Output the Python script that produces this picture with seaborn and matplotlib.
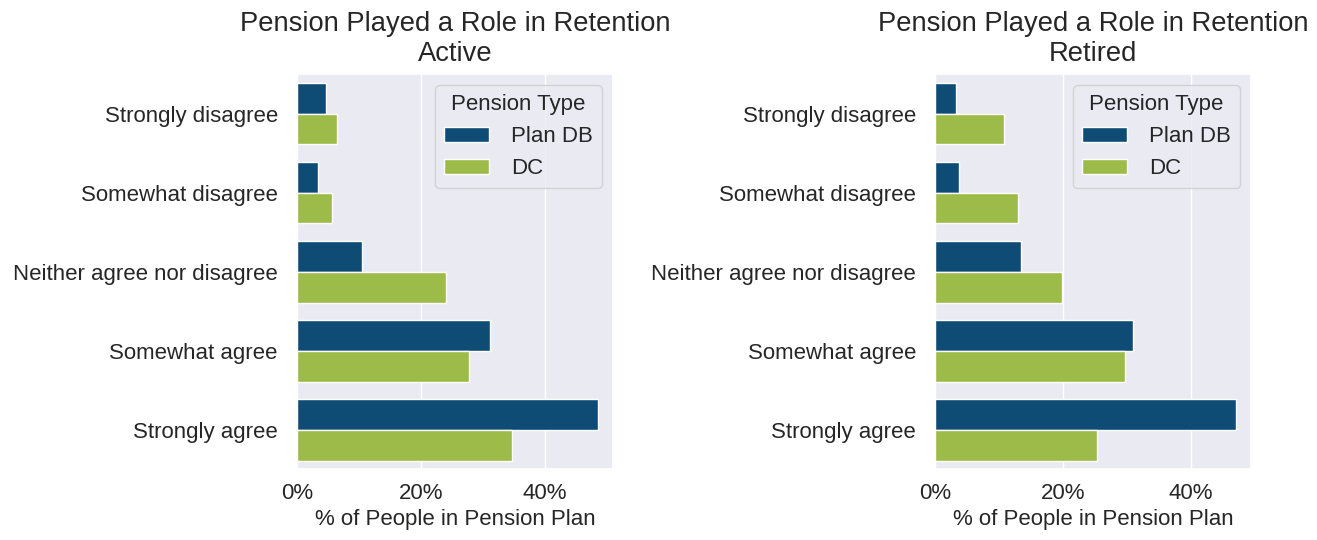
import pandas as pd
import matplotlib
matplotlib.use("Agg")
import matplotlib.pyplot as plt
from matplotlib.ticker import PercentFormatter, MultipleLocator
import seaborn as sns

# survey answers, top to bottom
categories = ["Strongly disagree", "Somewhat disagree", "Neither agree nor disagree",
              "Somewhat agree", "Strongly agree"]
pension_types = ["Plan DB", "DC"]

# % of people in each pension plan
active_db = [4.7, 3.4, 10.4, 31.2, 48.5]
active_dc = [6.4, 5.6, 24.0, 27.7, 34.7]
retired_db = [3.3, 3.7, 13.4, 30.9, 47.0]
retired_dc = [10.8, 13.0, 19.8, 29.7, 25.3]

palette = {"Plan DB": "#0f4c75", "DC": "#9dbb48"}


def make_df(db, dc):
    rows = []
    for cat, v in zip(categories, db):
        rows.append({"Response": cat, "Pension Type": "Plan DB", "pct": v})
    for cat, v in zip(categories, dc):
        rows.append({"Response": cat, "Pension Type": "DC", "pct": v})
    return pd.DataFrame(rows)


def main():
    sns.set_theme(style="darkgrid")
    plt.rcParams["font.family"] = ["Liberation Sans", "DejaVu Sans"]

    fig, axes = plt.subplots(1, 2, figsize=(13.17, 5.4), dpi=100)
    fig.subplots_adjust(left=0.2257, right=0.9497, bottom=0.1306, top=0.863, wspace=1.023)

    panels = [("Active", active_db, active_dc), ("Retired", retired_db, retired_dc)]
    for ax, (name, db, dc) in zip(axes, panels):
        df = make_df(db, dc)
        sns.barplot(data=df, y="Response", x="pct", hue="Pension Type",
                    order=categories, hue_order=pension_types,
                    palette=palette, saturation=1, width=0.78, orient="h", ax=ax)
        ax.set_title("Pension Played a Role in Retention\n" + name, fontsize=19.7, pad=9.5)
        ax.set_xlabel("% of People in Pension Plan", fontsize=16)
        ax.set_ylabel("")
        ax.xaxis.set_major_locator(MultipleLocator(20))
        ax.xaxis.set_major_formatter(PercentFormatter(100, decimals=0))
        ax.tick_params(labelsize=16)
        ax.tick_params(axis="y", pad=8)
        ax.legend(title="Pension Type", loc="upper right",
                  fontsize=16, title_fontsize=16, handletextpad=1.0)

    fig.savefig("out.png", dpi=100)
    plt.close(fig)


if __name__ == "__main__":
    main()
